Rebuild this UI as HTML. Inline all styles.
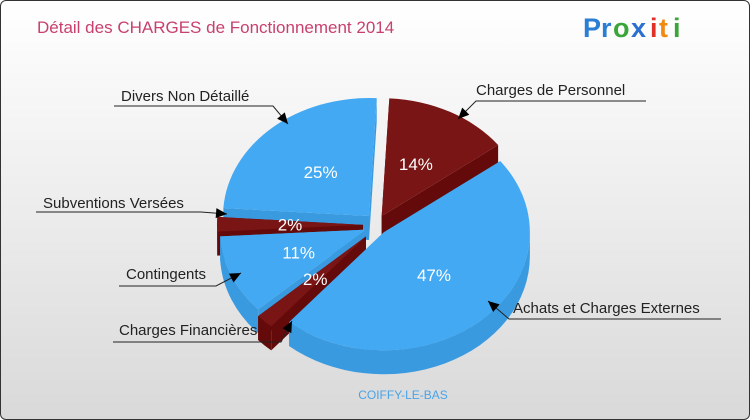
<!DOCTYPE html>
<html><head><meta charset="utf-8"><style>
html,body{margin:0;padding:0;width:750px;height:420px;overflow:hidden;}
#frame{position:absolute;left:0;top:0;width:748px;height:418px;border:1px solid #333;border-radius:6px;background:linear-gradient(#ffffff,#f4f4f4 30%,#d9d9d9);overflow:hidden;}
svg{position:absolute;left:0;top:0;}
text{font-family:"Liberation Sans",sans-serif;}
</style></head><body>
<div id="frame">
<svg id="chart" width="750" height="420">
 <text x="36" y="32" font-size="17" fill="#c8406e">Détail des CHARGES de Fonctionnement 2014</text>
 <g font-size="27" font-weight="bold">
  <text x="582" y="36" fill="#2a7fd4">P</text><text x="600" y="36" fill="#2a7fd4">r</text>
  <text x="612" y="36" fill="#3aa63a">o</text><text x="630" y="36" fill="#2a6fd0">x</text>
  <text x="649" y="36" fill="#e0302a">i</text><text x="658" y="36" fill="#f08a10">t</text><text x="672" y="36" fill="#3aa63a">i</text>
 </g>
 <g id="slices"></g>
 <g id="labels"></g>
 <text x="402" y="398" font-size="12" fill="#4aa3e8" text-anchor="middle">COIFFY-LE-BAS</text>
</svg>
</div>
<script>
const categories=["Charges de Personnel","Achats et Charges Externes","Charges Financières","Contingents","Subventions Versées","Divers Non Détaillé"];
const values=[14,47,2,11,2,25];
const pctLabels=["14%","47%","2%","11%","2%","25%"];
const NS="http://www.w3.org/2000/svg";
const cx=376,cy=224,rx=146,ry=118,depth=24,rot=3*Math.PI/180;
const explode=[10,10,16,12,14,12];
const topCol=["#7a1515","#42a9f2","#7a1515","#42a9f2","#7a1515","#42a9f2"];
const sideCol=["#640a0a","#3a9ae0","#640a0a","#3a9ae0","#640a0a","#3a9ae0"];
const labelPos=[[475,94,"start",645,100,475,100,457,118],[512,312,"start",720,318,508,318,487,300],[118,334,"start",112,341,280,341,291,320],[125,278,"start",118,285,215,285,240,272],[42,207,"start",35,211,200,211,226,213],[120,100,"start",113,105,272,105,287,123]];
const g=document.getElementById('slices');
const total=values.reduce((a,b)=>a+b,0);
function pt(a,ox,oy,dy){return [cx+ox+rx*Math.sin(a),cy+oy-ry*Math.cos(a)+(dy||0)];}
function el(tag,attrs,parent){const e=document.createElementNS(NS,tag);for(const k in attrs)e.setAttribute(k,attrs[k]);parent.appendChild(e);return e;}
let start=0;const slices=[];
values.forEach((v,i)=>{const a0=rot+start/total*2*Math.PI,a1=rot+(start+v)/total*2*Math.PI;start+=v;
 const m=(a0+a1)/2;slices.push({i,a0,a1,m,ox:explode[i]*Math.sin(m),oy:-explode[i]*Math.cos(m)});});
const order=slices.slice().sort((p,q)=>(-Math.cos(p.m))-(-Math.cos(q.m)));
order.forEach(s=>{
 const grp=el('g',{},g);
 
 
 const c=[cx+s.ox,cy+s.oy];
 [s.a0,s.a1].forEach(a=>{const p=pt(a,s.ox,s.oy);
  const w=el('path',{d:`M${c[0]},${c[1]} L${p[0]},${p[1]} L${p[0]},${p[1]+depth} L${c[0]},${c[1]+depth}Z`,fill:sideCol[s.i]},grp);
  });
 const lo=Math.max(s.a0,Math.PI/2),hi=Math.min(s.a1,3*Math.PI/2);
 if(hi>lo){const p0=pt(lo,s.ox,s.oy),p1=pt(hi,s.ox,s.oy);
  const large=(hi-lo)>Math.PI?1:0;
  const w=el('path',{d:`M${p0[0]},${p0[1]} A${rx},${ry} 0 ${large} 1 ${p1[0]},${p1[1]} L${p1[0]},${p1[1]+depth} A${rx},${ry} 0 ${large} 0 ${p0[0]},${p0[1]+depth}Z`,fill:sideCol[s.i]},grp);
  }
 const p0=pt(s.a0,s.ox,s.oy),p1=pt(s.a1,s.ox,s.oy);const large=(s.a1-s.a0)>Math.PI?1:0;
 const t=el('path',{d:`M${c[0]},${c[1]} L${p0[0]},${p0[1]} A${rx},${ry} 0 ${large} 1 ${p1[0]},${p1[1]}Z`,fill:topCol[s.i]},grp);
 
});
slices.forEach(s=>{const r=0.5;const x=cx+s.ox+rx*r*Math.sin(s.m),y=cy+s.oy-ry*r*Math.cos(s.m);
 const t=el('text',{x:x,y:y+6,'font-size':17,fill:'#fff','text-anchor':'middle'},g);
 
 t.textContent=pctLabels[s.i];});
const L=document.getElementById('labels');
categories.forEach((c,i)=>{const p=labelPos[i];
 const t=el('text',{x:p[0],y:p[1],'font-size':15,fill:'#222','text-anchor':p[2]},L);
 
 t.textContent=c;
 const ln=el('polyline',{points:`${p[3]},${p[4]} ${p[5]},${p[6]} ${p[7]},${p[8]}`,fill:'none',stroke:'#222','stroke-width':1},L);
 
 const dx=p[7]-p[5],dy=p[8]-p[6],len=Math.hypot(dx,dy),ux=dx/len,uy=dy/len;
 const bx=p[7]-ux*11,by=p[8]-uy*11;
 const ar=el('polygon',{points:`${p[7]},${p[8]} ${bx-uy*5},${by+ux*5} ${bx+uy*5},${by-ux*5}`,fill:'#000'},L);
 
});
</script>
</body></html>
